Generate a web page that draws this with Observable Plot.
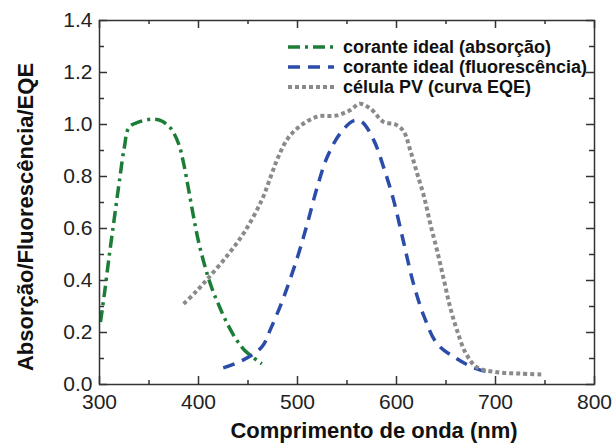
<!DOCTYPE html>
<html>
<head>
<meta charset="utf-8">
<script src="https://cdn.jsdelivr.net/npm/d3@7"></script>
<script src="https://cdn.jsdelivr.net/npm/@observablehq/plot@0.6"></script>
<style>
  html, body { margin: 0; padding: 0; background: #fff; }
  #chart { width: 614px; height: 445px; }
</style>
</head>
<body>
<div id="chart"></div>
<script>
// ---- data ----
const absWl  = [301, 305, 310, 315, 320, 325, 330, 340, 352, 362, 372, 380, 385, 390, 395, 400, 405, 410, 415, 420, 427, 437, 447, 464];
const absVal = [0.24, 0.35, 0.50, 0.64, 0.78, 0.91, 0.99, 1.01, 1.02, 1.015, 0.985, 0.925, 0.85, 0.75, 0.645, 0.55, 0.475, 0.41, 0.355, 0.31, 0.25, 0.18, 0.13, 0.08];

const fluWl  = [425, 444, 464, 473, 486, 500, 510, 520, 530, 543, 557, 565, 577, 587, 597, 607, 617, 628, 641, 661, 681, 695];
const fluVal = [0.064, 0.092, 0.145, 0.215, 0.335, 0.49, 0.62, 0.76, 0.875, 0.965, 1.015, 1.01, 0.94, 0.835, 0.71, 0.55, 0.39, 0.26, 0.157, 0.099, 0.06, 0.047];

const eqeWl  = [385, 397, 410, 430, 447, 464, 473, 480, 490, 503, 520, 540, 553, 563, 574, 587, 599, 607, 614, 621, 628, 634, 641, 648, 654, 661, 670, 681, 702, 725, 749];
const eqeVal = [0.31, 0.355, 0.41, 0.50, 0.59, 0.71, 0.80, 0.87, 0.945, 0.995, 1.03, 1.035, 1.055, 1.08, 1.06, 1.01, 1.0, 0.975, 0.90, 0.81, 0.72, 0.62, 0.515, 0.40, 0.30, 0.21, 0.12, 0.067, 0.047, 0.042, 0.038];

const xMajor = [300, 400, 500, 600, 700, 800];
const xMinor = [350, 450, 550, 650, 750];
const yMajor = [0, 0.2, 0.4, 0.6, 0.8, 1.0, 1.2, 1.4];
const yMinor = [0.1, 0.3, 0.5, 0.7, 0.9, 1.1, 1.3];

const seriesNames = ["corante ideal (absorção)", "corante ideal (fluorescência)", "célula PV (curva EQE)"];
const xLabel = "Comprimento de onda (nm)";
const yLabel = "Absorção/Fluorescência/EQE";

// ---- build ----
const abs = absWl.map((x, i) => ({x, y: absVal[i]}));
const flu = fluWl.map((x, i) => ({x, y: fluVal[i]}));
const eqe = eqeWl.map((x, i) => ({x, y: eqeVal[i]}));

const W = 614, H = 445, mL = 99, mR = 20, mT = 20, mB = 61;
const pw = W - mL - mR, ph = H - mT - mB;

const styles = [
  {stroke: "#1b7d36", strokeWidth: 3.5, strokeDasharray: "12,5,3,5", strokeLinecap: "butt"},
  {stroke: "#2b4ca8", strokeWidth: 3.5, strokeDasharray: "12,8", strokeLinecap: "butt"},
  {stroke: "#8a8a8a", strokeWidth: 4, strokeDasharray: "4,3", strokeLinecap: "butt"}
];
const axisColor = "#333";

const chart = Plot.plot({
  width: W, height: H,
  marginLeft: mL, marginRight: mR, marginTop: mT, marginBottom: mB,
  style: {fontFamily: "'Liberation Sans', Arial, sans-serif", fontSize: "21px", color: "#222", background: "#fff"},
  x: {domain: [300, 800]},
  y: {domain: [0, 1.4]},
  marks: [
    // inward ticks on all 4 sides
    Plot.tickX(xMajor, {x: d => d, insetTop: ph - 8, stroke: axisColor, strokeWidth: 1.5}),
    Plot.tickX(xMinor, {x: d => d, insetTop: ph - 4, stroke: axisColor, strokeWidth: 1.5}),
    Plot.tickX(xMajor, {x: d => d, insetBottom: ph - 8, stroke: axisColor, strokeWidth: 1.5}),
    Plot.tickX(xMinor, {x: d => d, insetBottom: ph - 4, stroke: axisColor, strokeWidth: 1.5}),
    Plot.tickY(yMajor, {y: d => d, insetRight: pw - 8, stroke: axisColor, strokeWidth: 1.5}),
    Plot.tickY(yMinor, {y: d => d, insetRight: pw - 5, stroke: axisColor, strokeWidth: 1.5}),
    Plot.tickY(yMajor, {y: d => d, insetLeft: pw - 8, stroke: axisColor, strokeWidth: 1.5}),
    Plot.tickY(yMinor, {y: d => d, insetLeft: pw - 5, stroke: axisColor, strokeWidth: 1.5}),
    Plot.axisX({ticks: xMajor, tickSize: 0, tickPadding: 10, tickFormat: d => String(d), label: null, fontSize: 21}),
    Plot.axisY({ticks: yMajor, tickSize: 0, tickPadding: 7, tickFormat: d => d.toFixed(1), label: null, fontSize: 21}),
    Plot.line(abs, {x: "x", y: "y", curve: "catmull-rom", ...styles[0]}),
    Plot.line(flu, {x: "x", y: "y", curve: "catmull-rom", ...styles[1]}),
    Plot.line(eqe, {x: "x", y: "y", curve: "catmull-rom", ...styles[2]}),
    Plot.frame({stroke: axisColor, strokeWidth: 1.5})
  ]
});

document.getElementById("chart").appendChild(chart);

const svg = d3.select(chart);
// axis titles
svg.append("text")
  .attr("x", 374).attr("y", 438)
  .attr("text-anchor", "middle")
  .attr("font-size", 22).attr("font-weight", "bold").attr("fill", "#111")
  .text(xLabel);
svg.append("text")
  .attr("transform", "translate(33,217) rotate(-90)")
  .attr("text-anchor", "middle")
  .attr("font-size", 22).attr("font-weight", "bold").attr("fill", "#111")
  .text(yLabel);

// legend
const legendY = [47, 67, 87];
seriesNames.forEach((name, i) => {
  const g = svg.append("g");
  g.append("line")
    .attr("x1", 288).attr("x2", 334)
    .attr("y1", legendY[i]).attr("y2", legendY[i])
    .attr("stroke", styles[i].stroke)
    .attr("stroke-width", styles[i].strokeWidth)
    .attr("stroke-linecap", "butt")
    .attr("stroke-dasharray", styles[i].strokeDasharray);
  g.append("text")
    .attr("x", 343).attr("y", legendY[i] + 6)
    .attr("text-anchor", "start")
    .attr("font-size", 18).attr("font-weight", "bold").attr("fill", "#111")
    .text(name);
});
</script>
</body>
</html>
